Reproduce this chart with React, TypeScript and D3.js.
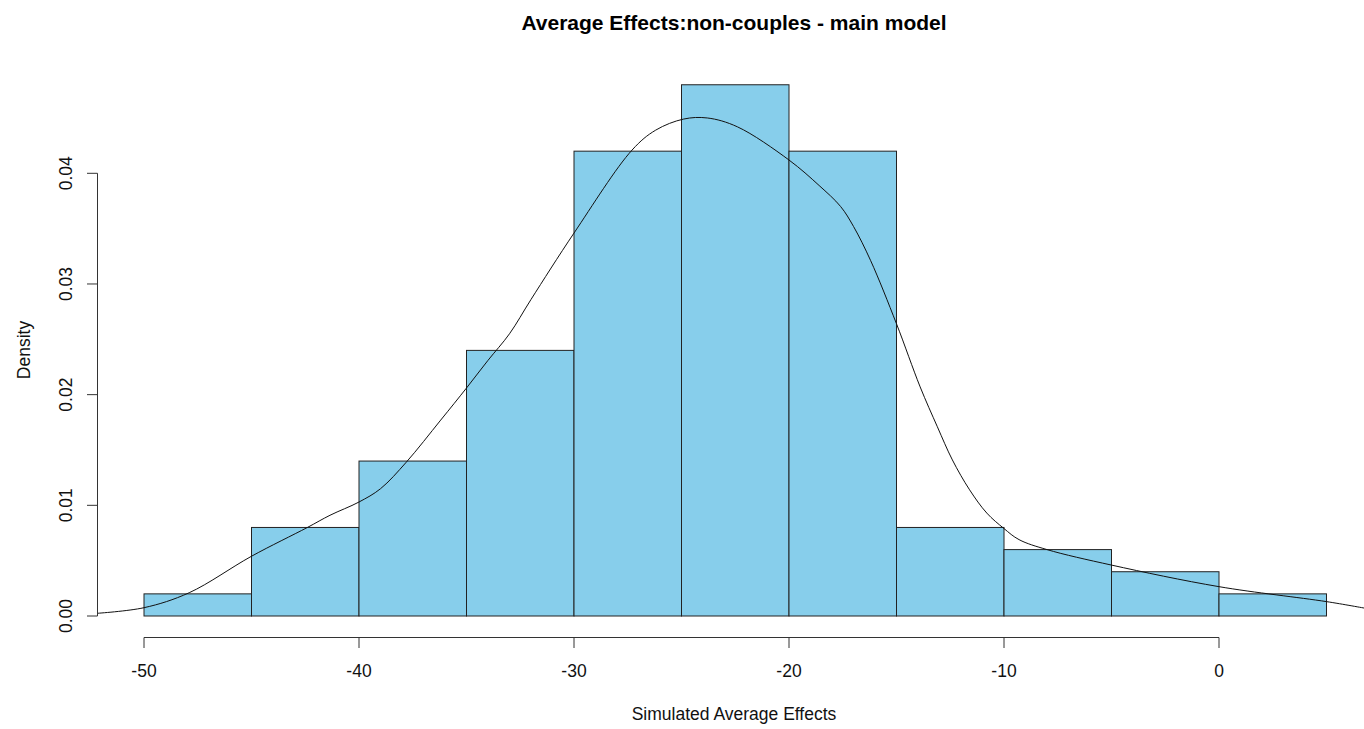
import React, { useRef, useEffect } from "react";
import * as d3 from "d3";

// histogram bins (left edges) and densities
const binStarts = [-50, -45, -40, -35, -30, -25, -20, -15, -10, -5, 0];
const binWidth = 5;
const densities = [0.002, 0.008, 0.014, 0.024, 0.042, 0.048, 0.042, 0.008, 0.006, 0.004, 0.002];

// kernel density curve
const densX = [-52.2, -50.0, -47.9, -45.0, -42.4, -41.35, -40.0, -39.0, -37.8, -36.2, -35.0, -34.0, -33.0, -32.0, -30.0, -27.3, -26.2, -24.9, -23.8, -22.4, -20.0, -18.6, -17.6, -17.0, -16.2, -15.0, -13.9, -13.1, -12.4, -11.6, -10.8, -10.0, -9.3, -8.0, -5.0, 0.0, 5.0, 6.8];
const densY = [0.00024, 0.00075, 0.0021, 0.0054, 0.008, 0.0091, 0.0103, 0.0115, 0.0139, 0.0177, 0.0206, 0.0231, 0.0255, 0.0286, 0.0346, 0.0421, 0.0439, 0.0449, 0.045, 0.0442, 0.0412, 0.0389, 0.037, 0.0352, 0.0321, 0.0264, 0.0207, 0.0171, 0.0141, 0.0114, 0.0093, 0.0079, 0.0069, 0.006, 0.0046, 0.00265, 0.0013, 0.0007];

const xTicks = [-50, -40, -30, -20, -10, 0];
const yTicks = [0, 0.01, 0.02, 0.03, 0.04];

export default function App() {
  const svgRef = useRef<SVGSVGElement>(null);

  useEffect(() => {
    if (!svgRef.current) return;
    const svg = d3.select(svgRef.current);
    svg.selectAll("*").remove();

    const plotLeft = 97;
    const plotRight = 1364;
    const font = "'Liberation Sans', Arial, sans-serif";
    const axisFont = "17.5px";

    const x = d3.scaleLinear().domain([-50, 0]).range([144, 1219]);
    const y = d3.scaleLinear().domain([0, 0.04]).range([616, 173.3]);

    // bars
    svg.append("g")
      .selectAll("rect")
      .data(binStarts)
      .enter()
      .append("rect")
      .attr("x", d => x(d))
      .attr("width", d => x(d + binWidth) - x(d))
      .attr("y", (d, i) => y(densities[i]))
      .attr("height", (d, i) => y(0) - y(densities[i]))
      .attr("fill", "#87ceeb")
      .attr("stroke", "#222")
      .attr("stroke-width", 1);

    // density line, clipped to plot region
    svg.append("clipPath")
      .attr("id", "plotclip")
      .append("rect")
      .attr("x", plotLeft)
      .attr("y", 0)
      .attr("width", plotRight - plotLeft)
      .attr("height", 729);

    const line = d3.line<number>()
      .x(d => x(d))
      .y((d, i) => y(densY[i]))
      .curve(d3.curveCatmullRom.alpha(0.5));

    svg.append("path")
      .datum(densX)
      .attr("clip-path", "url(#plotclip)")
      .attr("fill", "none")
      .attr("stroke", "#111")
      .attr("stroke-width", 1)
      .attr("d", line);

    // x axis
    const xAxisY = 637.5;
    svg.append("line")
      .attr("x1", x(xTicks[0]))
      .attr("x2", x(xTicks[xTicks.length - 1]))
      .attr("y1", xAxisY)
      .attr("y2", xAxisY)
      .attr("stroke", "#333");
    xTicks.forEach(t => {
      svg.append("line")
        .attr("x1", x(t)).attr("x2", x(t))
        .attr("y1", xAxisY).attr("y2", xAxisY + 10.5)
        .attr("stroke", "#333");
      svg.append("text")
        .attr("x", x(t))
        .attr("y", 676.5)
        .attr("text-anchor", "middle")
        .style("font-family", font)
        .style("font-size", axisFont)
        .style("fill", "#111")
        .text(String(t));
    });

    // y axis
    const yAxisX = 97.5;
    svg.append("line")
      .attr("x1", yAxisX).attr("x2", yAxisX)
      .attr("y1", y(0)).attr("y2", y(0.04))
      .attr("stroke", "#333");
    yTicks.forEach(t => {
      svg.append("line")
        .attr("x1", yAxisX - 10.5).attr("x2", yAxisX)
        .attr("y1", y(t)).attr("y2", y(t))
        .attr("stroke", "#333");
      svg.append("text")
        .attr("transform", `translate(71.5,${y(t)}) rotate(-90)`)
        .attr("text-anchor", "middle")
        .style("font-family", font)
        .style("font-size", axisFont)
        .style("fill", "#111")
        .text(t.toFixed(2));
    });

    // labels
    svg.append("text")
      .attr("x", 734)
      .attr("y", 29.5)
      .attr("text-anchor", "middle")
      .style("font-family", font)
      .style("font-size", "21px")
      .style("font-weight", "bold")
      .style("fill", "#000")
      .text("Average Effects:non-couples - main model");

    svg.append("text")
      .attr("x", 734)
      .attr("y", 719.5)
      .attr("text-anchor", "middle")
      .style("font-family", font)
      .style("font-size", axisFont)
      .style("fill", "#111")
      .text("Simulated Average Effects");

    svg.append("text")
      .attr("transform", `translate(29.5,350) rotate(-90)`)
      .attr("text-anchor", "middle")
      .style("font-family", font)
      .style("font-size", axisFont)
      .style("fill", "#111")
      .text("Density");
  }, []);

  return (
    <svg
      ref={svgRef}
      width={1364}
      height={729}
      style={{ position: "absolute", left: 0, top: 0, background: "#fff" }}
    />
  );
}
